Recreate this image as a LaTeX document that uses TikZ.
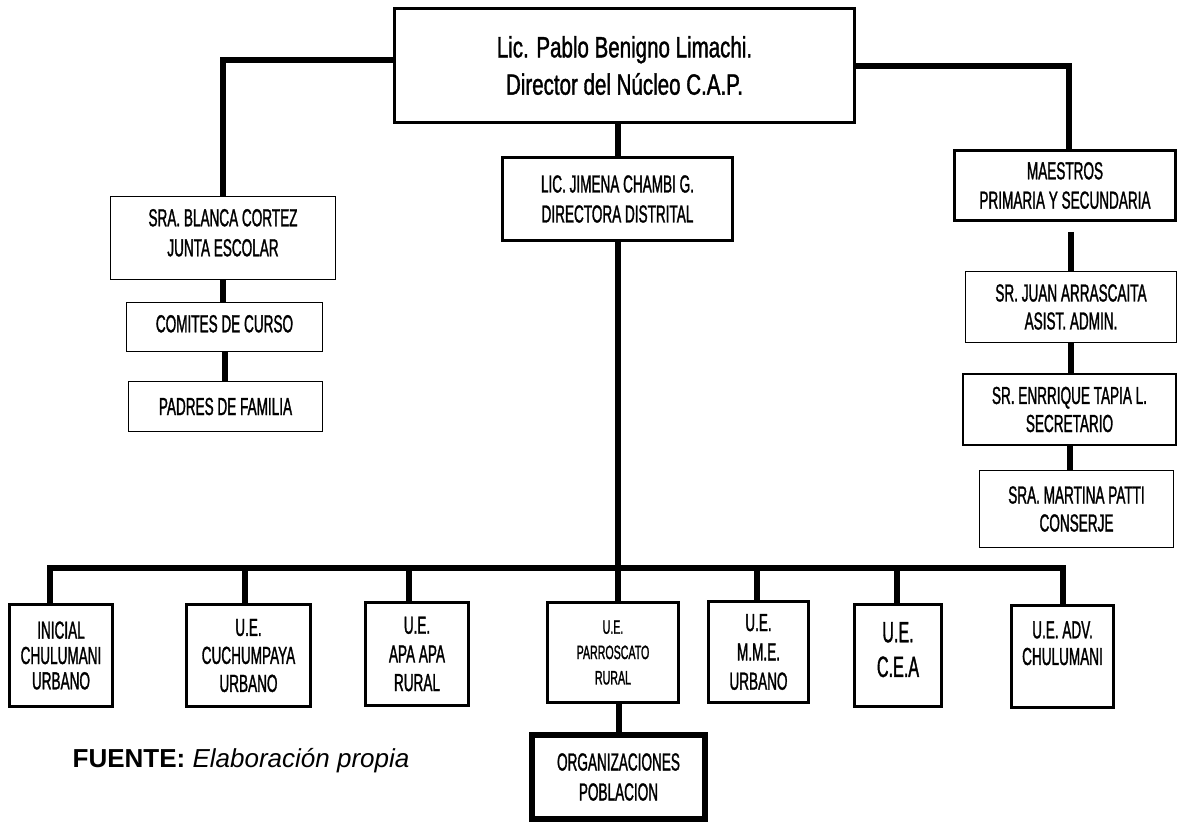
\documentclass[tikz,border=0pt]{standalone}
\usepackage{fontspec}
\setmainfont{Liberation Sans}
\newfontfamily\cajafont[FakeStretch=0.55,FakeBold=1.2]{Liberation Sans}
\newfontfamily\jefefont[FakeStretch=0.7,FakeBold=1.2]{Liberation Sans}
\usetikzlibrary{positioning}

\begin{document}
\begin{tikzpicture}[x=0.75pt,y=-0.75pt,
	caja/.style={draw,align=center,inner sep=0pt,line width=2.2pt,font=\cajafont\fontsize{18.5}{21}\selectfont},
	fina/.style={caja,line width=0.8pt},
	tam/.style 2 args={minimum width=#1*0.75pt,minimum height=#2*0.75pt},
	conector/.style={line width=4.5pt}]
	\useasboundingbox[fill=white] (0,0) rectangle (1178,822);
	% cabeza
	\node[caja,line width=2pt,tam={460}{114},font=\jefefont\fontsize{22}{28}\selectfont] (director) at (624.5,65.5) {Lic. Pablo Benigno Limachi.\\Director del Núcleo C.A.P.};
	\node[caja,tam={230}{83},font=\cajafont\fontsize{18.5}{22.5}\selectfont] (jimena) at (617.5,199) {LIC. JIMENA CHAMBI G.\\DIRECTORA DISTRITAL};
	% izquierda
	\node[fina,tam={225}{83},font=\cajafont\fontsize{18.5}{22.5}\selectfont,text depth=8pt] (blanca) at (223,238) {SRA. BLANCA CORTEZ\\JUNTA ESCOLAR};
	\node[fina,tam={196}{49},text depth=5pt] (comites) at (224.5,327) {COMITES DE CURSO};
	\node[fina,tam={194}{50}] (padres) at (225.5,406.5) {PADRES DE FAMILIA};
	% derecha
	\node[caja,tam={221}{70},font=\cajafont\fontsize{18.5}{22}\selectfont] (maestros) at (1065,185.5) {MAESTROS\\PRIMARIA Y SECUNDARIA};
	\node[fina,tam={211}{71}] (juan) at (1071,307) {SR. JUAN ARRASCAITA\\ASIST. ADMIN.};
	\node[caja,line width=1.5pt,tam={213}{71}] (enrrique) at (1069.5,409.5) {SR. ENRRIQUE TAPIA L.\\SECRETARIO};
	\node[fina,tam={194}{77}] (martina) at (1076.5,509) {SRA. MARTINA PATTI\\CONSERJE};
	% unidades
	\node[caja,tam={103}{102},font=\cajafont\fontsize{18.5}{19}\selectfont] (inicial) at (61,655.5) {INICIAL\\CHULUMANI\\URBANO};
	\node[caja,tam={124}{102}] (cuchumpaya) at (248.5,655.5) {U.E.\\CUCHUMPAYA\\URBANO};
	\node[caja,tam={103}{103},font=\cajafont\fontsize{18.5}{21.5}\selectfont] (apa) at (417,654) {U.E.\\APA APA\\RURAL};
	\node[caja,tam={131}{100},font=\cajafont\fontsize{14.5}{19}\selectfont] (parroscato) at (613,652.5) {U.E.\\PARROSCATO\\RURAL};
	\node[caja,tam={100}{101},font=\cajafont\fontsize{18.5}{22}\selectfont] (mme) at (758.5,652) {U.E.\\M.M.E.\\URBANO};
	\node[caja,tam={87}{102},font=\cajafont\fontsize{22}{26}\selectfont,text depth=9pt] (cea) at (898,655.5) {U.E.\\C.E.A};
	\node[caja,tam={102}{102},font=\cajafont\fontsize{18.5}{20}\selectfont] (adv) at (1062.5,656.5) {U.E. ADV.\\CHULUMANI\\\mbox{}};
	\node[caja,line width=4.5pt,tam={173}{84},font=\cajafont\fontsize{18.5}{22.5}\selectfont] (org) at (618.5,777) {ORGANIZACIONES\\POBLACION};
	\node[anchor=base west,font=\fontsize{19.5}{24}\selectfont] (fuente) at (68,767) {\textbf{FUENTE:} \textit{Elaboración propia}};
	% lineas
	\coordinate (barra) at (0,568);
	\coordinate (gapm) at ([yshift=-7.5pt]maestros.south);
	\draw[conector] ([yshift=4.5pt]director.west) -| (blanca.north);
	\draw[conector] (director.east) -| ([xshift=3pt]maestros.north);
	\draw[conector] (jimena.north |- director.south) -- (jimena.north);
	\draw[conector] (blanca.south) -- (blanca.south |- comites.north);
	\draw[conector] (comites.south) -- (comites.south |- padres.north);
	\draw[conector] (gapm -| juan.north) -- (juan.north);
	\draw[conector] (juan.south) -- (juan.south |- enrrique.north);
	\draw[conector] (enrrique.south) -- (enrrique.south |- martina.north);
	\draw[conector] (jimena.south) -- (jimena.south |- parroscato.north);
	\draw[conector] ([xshift=-8pt]inicial.north) |- (adv.north |- barra) -- (adv.north);
	\foreach \n/\d in {cuchumpaya/-2.5,apa/-6,mme/-1,cea/-1}
		\draw[conector] ([xshift=\d pt]\n.north |- barra) -- ([xshift=\d pt]\n.north);
	\draw[conector] (org.north |- parroscato.south) -- (org.north);
\end{tikzpicture}
\end{document}
